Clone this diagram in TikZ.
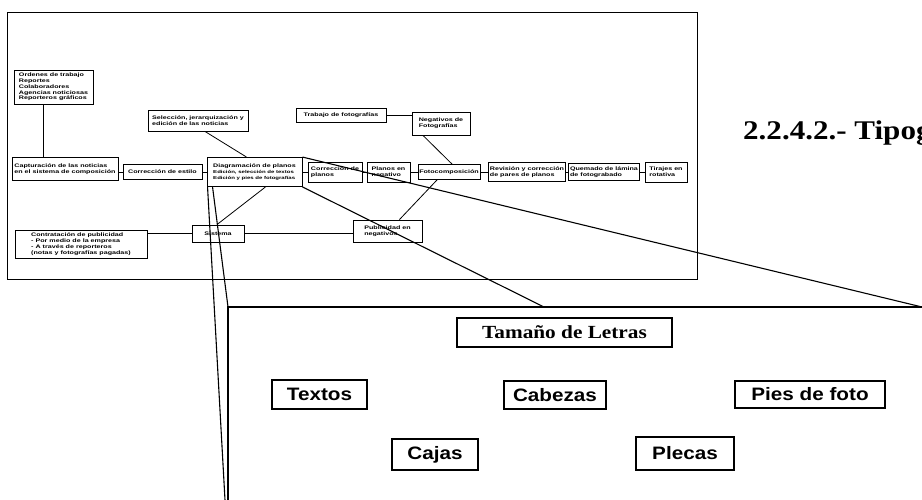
\documentclass[tikz,border=0pt]{standalone}
\usepackage{fontspec}
\setmainfont{Liberation Serif}
\newfontfamily\smf{Liberation Sans}[FakeStretch=1.4]
\newfontfamily\bgf{Liberation Sans}[FakeStretch=1.15]
\newfontfamily\bgsf{Liberation Serif}[FakeStretch=1.15]
\begin{document}
\begin{tikzpicture}[x=1pt,y=-1pt,
  sb/.style={draw, line width=0.9pt, inner sep=1.2pt, font=\smf\bfseries\fontsize{5.1}{5.8}\selectfont, align=left},
  bb/.style={draw, line width=1.1pt, inner sep=2pt, font=\bgf\bfseries\fontsize{18}{20}\selectfont},
  ln/.style={line width=0.8pt},
  zl/.style={line width=1.1pt}]
\useasboundingbox (0,0) rectangle (922,500);
\fill[white] (0,0) rectangle (922,500);

% outer frame of the flow chart
\draw[line width=0.9pt] (7,12) rectangle (697,279);

% flow chart boxes
\node[sb, minimum width=79pt, minimum height=34pt] (ord) at (53.5,87)
  {Ordenes de trabajo\\Reportes\\Colaboradores\\Agencias noticiosas\\Reporteros gráficos};
\node[sb, minimum width=106pt, minimum height=23pt] (cap) at (65,169)
  {Capturación de las noticias\\en el sistema de composición};
\node[sb, minimum width=79pt, minimum height=15pt] (ces) at (162.5,172) {Corrección de estilo};
\node[sb, minimum width=100pt, minimum height=21pt] (sel) at (198,120.5)
  {Selección, jerarquización y\\edición de las noticias};
\node[sb, minimum width=95pt, minimum height=29pt] (dia) at (254.5,172)
  {Diagramación de planos\\[1pt]{\fontsize{4.3}{4.9}\selectfont Edición, selección de textos}\\{\fontsize{4.3}{4.9}\selectfont Edición y pies de fotografías}};
\node[sb, minimum width=54pt, minimum height=20pt] (cpl) at (335,172) {Corrección de\\planos};
\node[sb, minimum width=43pt, minimum height=20pt] (pne) at (388.5,172) {Planos en\\negativo};
\node[sb, minimum width=62pt, minimum height=15pt] (fot) at (449,172) {Fotocomposición};
\node[sb, minimum width=76pt, minimum height=19pt] (rev) at (527,172) {Revisión y corrección\\de pares de planos};
\node[sb, minimum width=68pt, minimum height=17pt] (que) at (604,172) {Quemado de lámina\\de fotograbado};
\node[sb, minimum width=42pt, minimum height=20pt] (tir) at (666,172) {Tirajes en\\rotativa};
\node[sb, minimum width=90pt, minimum height=14pt] (tra) at (341,115) {Trabajo de fotografías};
\node[sb, minimum width=58pt, minimum height=23pt] (neg) at (441,123.5) {Negativos de\\Fotografías};
\node[sb, minimum width=132pt, minimum height=28pt] (con) at (81,244)
  {Contratación de publicidad\\- Por medio de la empresa\\- A través de reporteros\\(notas y fotografías pagadas)};
\node[sb, minimum width=52pt, minimum height=17pt] (sis) at (218,233.5) {Sistema};
\node[sb, minimum width=69pt, minimum height=22pt] (pub) at (387.5,231) {Publicidad en\\negativos};

% connectors
\coordinate (c43) at (43,0);
\draw[ln] (ord.south -| c43) -- (cap.north -| c43);
\draw[ln] (cap.east |- ces.west) -- (ces.west);
\draw[ln] (ces) -- (dia);
\draw[ln] (dia) -- (cpl);
\draw[ln] (cpl) -- (pne);
\draw[ln] (pne) -- (fot);
\draw[ln] (fot) -- (rev);
\draw[ln] (rev) -- (que);
\draw[ln] (que) -- (tir);
\draw[ln] ([xshift=7pt]sel.south) -- ([xshift=-8pt]dia.north);
\draw[ln] (tra.east) -- (tra.east -| neg.west);
\draw[ln] ([xshift=-18pt]neg.south) -- ([xshift=3pt]fot.north);
\draw[ln] ([xshift=-12pt]fot.south) -- ([xshift=12pt]pub.north);
\draw[ln] ([xshift=-1pt]sis.north) -- ([xshift=11pt]dia.south);
\draw[ln] (con.east |- sis.west) -- (sis.west);
\draw[ln] (sis.east) -- (sis.east -| pub.west);

% magnified panel
\coordinate (ptl) at (228,307);
\coordinate (pbl) at (228,500);
\coordinate (ptr) at (922,307);
\coordinate (pmid) at (544,307);
\coordinate (pbl2) at (225,500);
\draw[zl] (pbl) -- (ptl) -- (ptr);
\draw[zl] ([xshift=6pt]dia.south west) -- (ptl);
\draw[zl] ([xshift=1pt]dia.south west) -- (pbl2);
\draw[zl] (dia.north east) -- (ptr);
\draw[zl] (dia.south east) -- (pmid);

\node[bb, font=\bgsf\bfseries\fontsize{18.5}{20}\selectfont, minimum width=215pt, minimum height=29pt] (tam) at (564.5,332.5) {Tamaño de Letras};
\node[bb, minimum width=95pt, minimum height=29pt] (txt) at (319.5,394.5) {Textos};
\node[bb, minimum width=102pt, minimum height=28pt] (cab) at (555,395) {Cabezas};
\node[bb, minimum width=150pt, minimum height=27pt] (pie) at (810,394.5) {Pies de foto};
\node[bb, minimum width=86pt, minimum height=31pt] (caj) at (435,454.5) {Cajas};
\node[bb, minimum width=98pt, minimum height=33pt] (ple) at (685,453.5) {Plecas};

% section title (runs off the right edge, as in the source)
\node[anchor=base west, inner sep=0pt, font=\bgsf\bfseries\fontsize{27}{30}\selectfont] (tit) at (743,140) {2.2.4.2.- Tipografía};
\end{tikzpicture}
\end{document}
